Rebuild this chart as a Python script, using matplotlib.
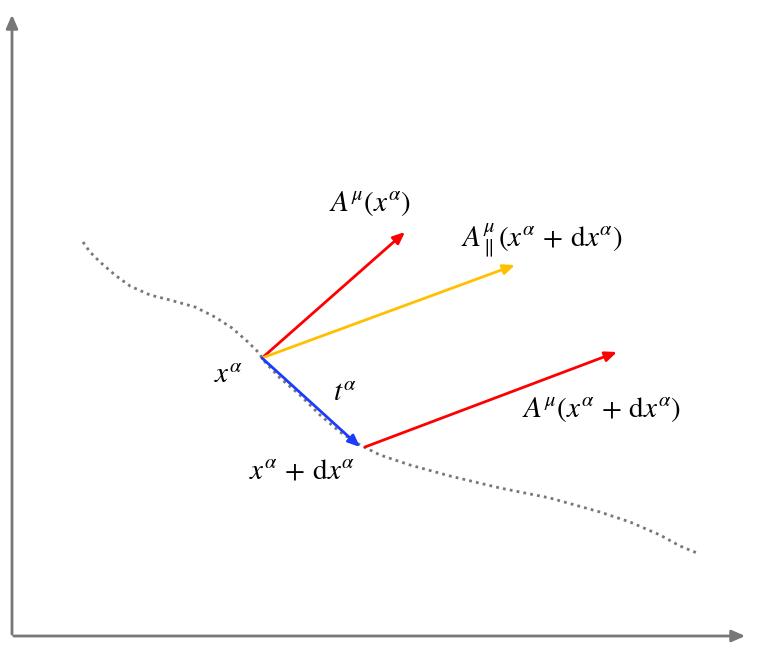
import matplotlib
matplotlib.use("Agg")
import matplotlib.pyplot as plt

plt.rcParams['mathtext.fontset'] = 'stix'

curve_x = [83, 90, 100, 115, 130, 150, 170, 195, 215, 232, 248, 258, 265, 280, 300, 320, 340, 360, 380, 410, 450, 500, 550, 600, 630, 660, 680, 697]
curve_y = [242, 252, 262, 275, 286, 295, 300, 307, 317, 328, 342, 352, 362, 378, 395, 415, 432, 445, 455, 465, 476, 488, 498, 512, 522, 535, 546, 553]

arrows = [  # (x0, y0, x1, y1, colour)
    (262, 358, 405, 232, '#ff0000'),
    (262, 358, 515, 265, '#ffc000'),
    (262, 358, 360, 447, '#1a3cff'),
    (365, 447, 617, 352, '#ff0000'),
]

labels = [
    (370, 204, r'$A^{\mu}(x^{\alpha})$'),
    (542, 240, r'$A^{\mu}_{\parallel}(x^{\alpha}\,+\,\mathrm{d}x^{\alpha})$'),
    (228, 375, r'$x^{\alpha}$'),
    (345, 393, r'$t^{\alpha}$'),
    (302, 470, r'$x^{\alpha}\,+\,\mathrm{d}x^{\alpha}$'),
    (602, 410, r'$A^{\mu}(x^{\alpha}\,+\,\mathrm{d}x^{\alpha})$'),
]

fig = plt.figure(figsize=(7.6, 6.49), dpi=100)
ax = fig.add_axes([0, 0, 1, 1])
ax.set_xlim(0, 760)
ax.set_ylim(649, 0)
ax.axis('off')

ax.annotate('', xy=(12, 12), xytext=(12, 637),
            arrowprops=dict(arrowstyle='-|>,head_length=0.8,head_width=0.35', color='#777777', lw=2))
ax.annotate('', xy=(748, 636), xytext=(11, 636),
            arrowprops=dict(arrowstyle='-|>,head_length=0.8,head_width=0.35', color='#777777', lw=2))

ax.plot(curve_x, curve_y, linestyle=(0, (1, 1.5)), color='#777777', lw=2)

for x0, y0, x1, y1, c in arrows:
    ax.annotate('', xy=(x1, y1), xytext=(x0, y0),
                arrowprops=dict(arrowstyle='-|>,head_length=0.7,head_width=0.3', color=c, lw=2,
                                shrinkA=0, shrinkB=0))

for x, y, t in labels:
    ax.text(x, y, t, fontsize=21, ha='center', va='center', color='black')

fig.savefig('out.png', dpi=100)
